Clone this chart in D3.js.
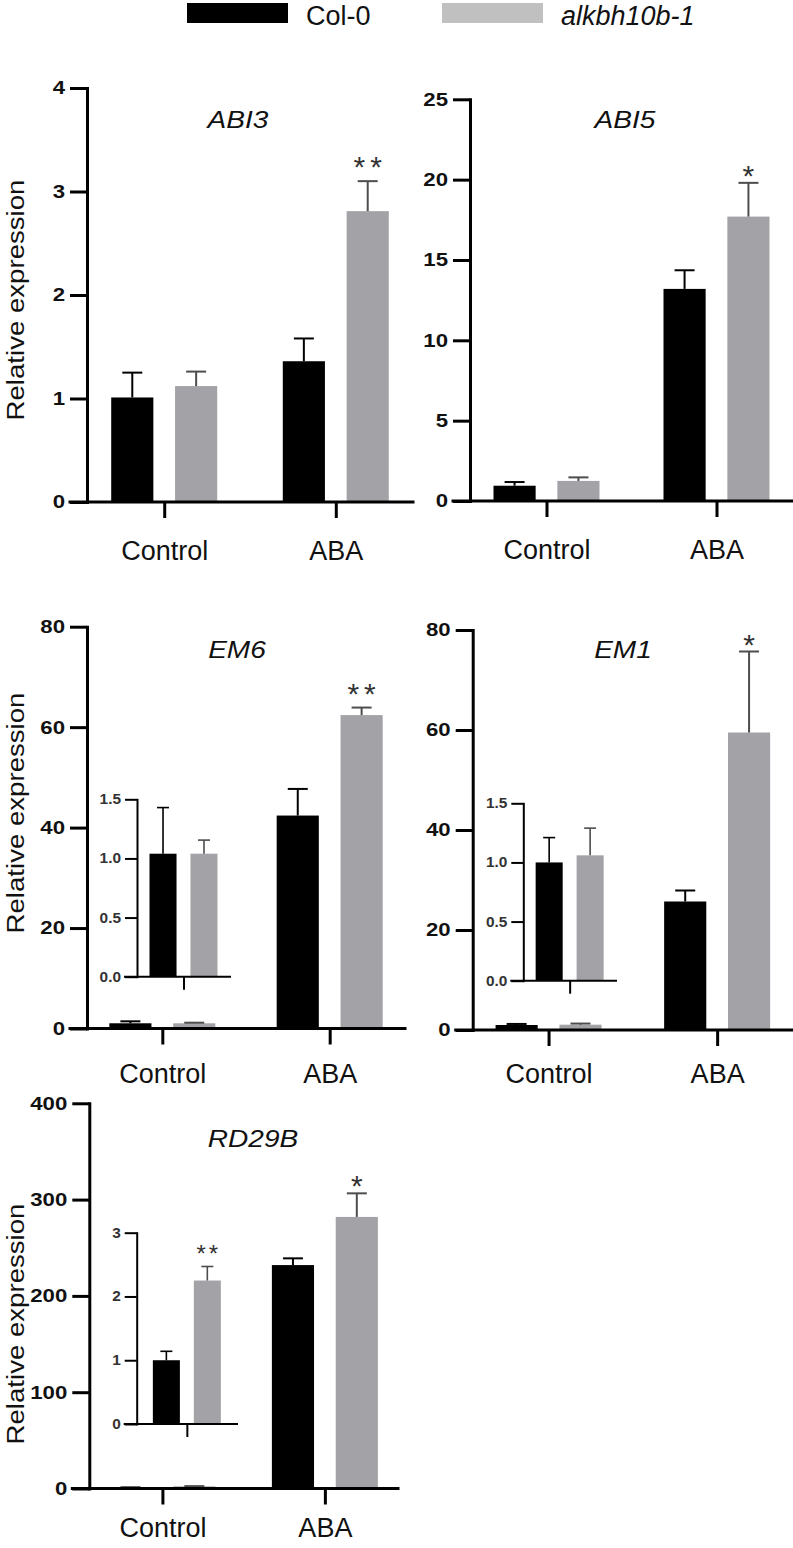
<!DOCTYPE html>
<html><head><meta charset="utf-8">
<script src="https://cdn.jsdelivr.net/npm/d3@7"></script>
<style>
body{margin:0;background:#fff;}
svg{display:block;}
text{font-family:"Liberation Sans",Arial,Helvetica,sans-serif;}
</style>
</head><body>
<svg id="chart" width="793" height="1548"></svg>
<script>
// ---------- data ----------
const groups = ["Control", "ABA"];
const seriesNames = ["Col-0", "alkbh10b-1"];
const yLabelText = "Relative expression";

const abi3Col = [1.01, 1.36],  abi3ColErr = [0.24, 0.22];
const abi3Alk = [1.12, 2.81],  abi3AlkErr = [0.14, 0.29];
const abi3Stars = ["", "**"];
const abi3Ticks = [0, 1, 2, 3, 4];

const abi5Col = [0.95, 13.2],  abi5ColErr = [0.23, 1.16];
const abi5Alk = [1.25, 17.7],  abi5AlkErr = [0.22, 2.1];
const abi5Stars = ["", "*"];
const abi5Ticks = [0, 5, 10, 15, 20, 25];

const em6Col = [1.04, 42.4],   em6ColErr = [0.39, 5.3];
const em6Alk = [1.04, 62.4],   em6AlkErr = [0.115, 1.5];
const em6Stars = ["", "**"];
const em6Ticks = [0, 20, 40, 60, 80];
const em6InsetTicks = [0, 0.5, 1.0, 1.5];
const em6InsetStars = [""];

const em1Col = [1.0, 25.7],    em1ColErr = [0.21, 2.2];
const em1Alk = [1.06, 59.5],   em1AlkErr = [0.23, 16.2];
const em1Stars = ["", "*"];
const em1Ticks = [0, 20, 40, 60, 80];
const em1InsetTicks = [0, 0.5, 1.0, 1.5];
const em1InsetStars = [""];

const rd29bCol = [1.0, 232],   rd29bColErr = [0.14, 7];
const rd29bAlk = [2.25, 282],  rd29bAlkErr = [0.22, 24.5];
const rd29bStars = ["", "*"];
const rd29bTicks = [0, 100, 200, 300, 400];
const rd29bInsetTicks = [0, 1, 2, 3];
const rd29bInsetStars = ["**"];

// ---------- styles / layout ----------
const barColors = ["#000000", "#a3a3a7"];
const errColors = ["#000000", "#4d4d4d"];
const legendColors = ["#000000", "#c0c0c0"];

const layoutABI3  = {left: 87,   right: 413, top: 88,    bottom: 502,   titleX: 238, titleY: 128,  ylabelY: 300,  labelGap: 23};
const layoutABI5  = {left: 470,  right: 793, top: 99.3,  bottom: 501,   titleX: 625, titleY: 128,  ylabelY: null, labelGap: 23};
const layoutEM6   = {left: 87,   right: 405, top: 626.7, bottom: 1028.5,titleX: 237, titleY: 658,  ylabelY: 813,  labelGap: 19};
const layoutEM1   = {left: 472.7,right: 793, top: 630,   bottom: 1030,  titleX: 623, titleY: 658,  ylabelY: null, labelGap: 18};
const layoutRD29B = {left: 89.3, right: 398, top: 1103.3,bottom: 1488.5,titleX: 253, titleY: 1147, ylabelY: 1324, labelGap: 13};
const insetEM6   = {left: 137,   right: 230, top: 799.3,  bottom: 976.7, fmt: ".1f"};
const insetEM1   = {left: 523.3, right: 616, top: 803.3,  bottom: 980.7, fmt: ".1f"};
const insetRD29B = {left: 136.7, right: 237, top: 1232.7, bottom: 1424,  fmt: "d"};

const panels = [
  {gene: "ABI3",  col: abi3Col,  colErr: abi3ColErr,  alk: abi3Alk,  alkErr: abi3AlkErr,  stars: abi3Stars,  ticks: abi3Ticks,  L: layoutABI3,  inset: null},
  {gene: "ABI5",  col: abi5Col,  colErr: abi5ColErr,  alk: abi5Alk,  alkErr: abi5AlkErr,  stars: abi5Stars,  ticks: abi5Ticks,  L: layoutABI5,  inset: null},
  {gene: "EM6",   col: em6Col,   colErr: em6ColErr,   alk: em6Alk,   alkErr: em6AlkErr,   stars: em6Stars,   ticks: em6Ticks,   L: layoutEM6,   inset: insetEM6,   insetTicks: em6InsetTicks,   insetStars: em6InsetStars},
  {gene: "EM1",   col: em1Col,   colErr: em1ColErr,   alk: em1Alk,   alkErr: em1AlkErr,   stars: em1Stars,   ticks: em1Ticks,   L: layoutEM1,   inset: insetEM1,   insetTicks: em1InsetTicks,   insetStars: em1InsetStars},
  {gene: "RD29B", col: rd29bCol, colErr: rd29bColErr, alk: rd29bAlk, alkErr: rd29bAlkErr, stars: rd29bStars, ticks: rd29bTicks, L: layoutRD29B, inset: insetRD29B, insetTicks: rd29bInsetTicks, insetStars: rd29bInsetStars}
];

const svg = d3.select("#chart");

// ---------- legend ----------
const legendX = d3.scalePoint().domain(seriesNames).range([187, 442]);
const leg = svg.append("g");
seriesNames.forEach((s, i) => {
  leg.append("rect").attr("x", legendX(s)).attr("y", 3).attr("width", 101).attr("height", 20)
     .attr("fill", legendColors[i]);
  leg.append("text").attr("x", legendX(s) + 119).attr("y", 25)
     .attr("font-size", 27).attr("fill", "#111")
     .attr("font-style", i === 1 ? "italic" : "normal").text(s);
});

function rowsOf(p, idxs) {
  return idxs.map(i => ({
    group: groups[i],
    values: [
      {s: 0, v: p.col[i], e: p.colErr[i]},
      {s: 1, v: p.alk[i], e: p.alkErr[i]}
    ]
  }));
}

function drawBars(g, rows, x, xs, y, capW, errW, starsFor, starSize, starSpacing) {
  rows.forEach((r, gi) => {
    r.values.forEach(d => {
      const x0 = x(r.group) + xs(seriesNames[d.s]);
      const cx = x0 + xs.bandwidth() / 2;
      g.append("rect").attr("x", x0).attr("y", y(d.v))
        .attr("width", xs.bandwidth()).attr("height", y(0) - y(d.v))
        .attr("fill", barColors[d.s]);
      const yt = y(d.v + d.e);
      g.append("line").attr("x1", cx).attr("x2", cx).attr("y1", y(d.v)).attr("y2", yt)
        .attr("stroke", errColors[d.s]).attr("stroke-width", errW);
      g.append("line").attr("x1", cx - capW / 2).attr("x2", cx + capW / 2).attr("y1", yt).attr("y2", yt)
        .attr("stroke", errColors[d.s]).attr("stroke-width", errW);
      const st = d.s === 1 ? (starsFor[gi] || "") : "";
      if (st) {
        const gap = st.length === 2 ? 4 : -3;
        g.append("text").attr("x", cx + (st.length === 2 ? starSpacing / 2 : 0)).attr("y", yt - gap)
          .attr("text-anchor", "middle").attr("font-size", starSize)
          .attr("letter-spacing", st.length === 2 ? starSpacing : 0)
          .attr("fill", "#333").text(st);
      }
    });
  });
}

function styleAxis(a, w, fs) {
  a.selectAll("path.domain").attr("stroke", "#000").attr("stroke-width", w).attr("stroke-linecap", "square");
  a.selectAll(".tick line").attr("stroke", "#000").attr("stroke-width", w);
  a.selectAll(".tick text").attr("fill", "#1a1a1a").attr("font-size", fs);
}

function stretchTickText(a, sx) {
  a.selectAll(".tick text").each(function() {
    const t = d3.select(this);
    const xv = +t.attr("x");
    t.attr("x", 0).attr("transform", `translate(${xv},0) scale(${sx},1)`);
  });
}

panels.forEach(p => {
  const L = p.L;
  const g = svg.append("g");
  const y = d3.scaleLinear().domain([0, d3.max(p.ticks)]).range([L.bottom, L.top]);
  const x = d3.scalePoint().domain(groups).range([L.left, L.right]).padding(0.45);
  const xs = d3.scaleBand().domain(seriesNames).range([-53, 53]).paddingInner(0.34);

  drawBars(g, rowsOf(p, [0, 1]), x, xs, y, 20, 2, p.stars, 30, 5);

  // y axis
  const ya = g.append("g").attr("transform", `translate(${L.left},0)`)
    .call(d3.axisLeft(y).tickValues(p.ticks).tickSize(17).tickSizeOuter(0).tickPadding(5).tickFormat(d3.format("d")));
  styleAxis(ya, 3, 18.5);
  ya.selectAll(".tick text").attr("font-weight", "bold").attr("fill", "#111");
  stretchTickText(ya, 1.2);

  // x axis
  const xa = g.append("g").attr("transform", `translate(0,${L.bottom})`)
    .call(d3.axisBottom(x).tickSize(16).tickSizeOuter(0).tickPadding(L.labelGap));
  xa.select("path.domain").attr("d", `M${L.left - 17},0H${L.right}`);
  styleAxis(xa, 3, 27);
  xa.selectAll(".tick text").attr("fill", "#111");

  // title
  g.append("text").attr("transform", `translate(${L.titleX},${L.titleY}) scale(1.22,1)`)
    .attr("text-anchor", "middle").attr("font-size", 23).attr("font-style", "italic")
    .attr("fill", "#111").text(p.gene);

  if (L.ylabelY !== null) {
    g.append("text").attr("transform", `translate(24,${L.ylabelY}) rotate(-90) scale(1.15,1)`)
      .attr("text-anchor", "middle").attr("font-size", 24).attr("fill", "#111").text(yLabelText);
  }

  if (p.inset) {
    const I = p.inset;
    const gi = svg.append("g");
    const yi = d3.scaleLinear().domain([0, d3.max(p.insetTicks)]).range([I.bottom, I.top]);
    const xi = d3.scalePoint().domain([groups[0]]).range([I.left, I.right]).padding(0.5);
    const xsi = d3.scaleBand().domain(seriesNames).range([-34, 34]).paddingInner(0.34);
    drawBars(gi, rowsOf(p, [0]), xi, xsi, yi, 12, 1.6, p.insetStars, 24, 3);
    const yia = gi.append("g").attr("transform", `translate(${I.left},0)`)
      .call(d3.axisLeft(yi).tickValues(p.insetTicks).tickSize(12).tickSizeOuter(0).tickPadding(4)
        .tickFormat(d3.format(I.fmt)));
    styleAxis(yia, 2, 14);
    yia.selectAll(".tick text").attr("font-weight", "bold").attr("fill", "#333");
    stretchTickText(yia, 1.1);
    const xia = gi.append("g").attr("transform", `translate(0,${I.bottom})`)
      .call(d3.axisBottom(xi).tickSize(13).tickSizeOuter(0).tickFormat(""));
    xia.select("path.domain").attr("d", `M${I.left - 12},0H${I.right}`);
    styleAxis(xia, 2, 14);
  }
});
</script>
</body></html>
